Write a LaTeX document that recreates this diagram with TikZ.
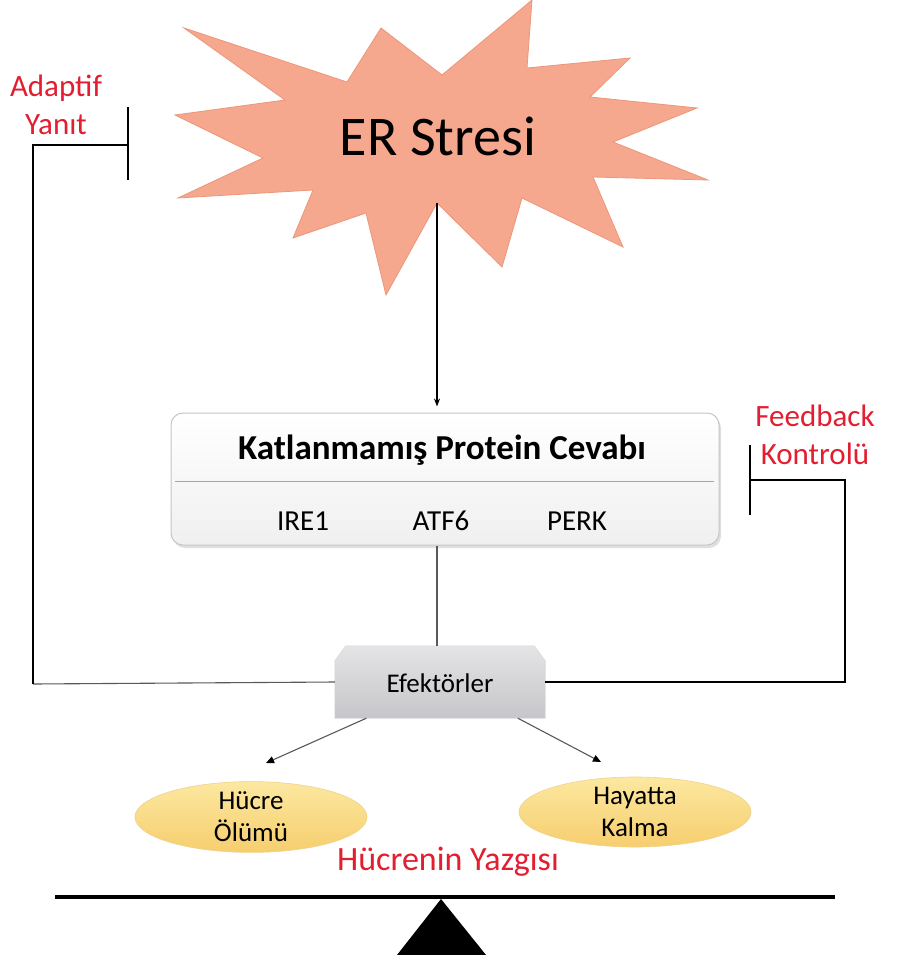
\documentclass[tikz,border=0pt]{standalone}
\usepackage{fontspec}
\setmainfont{Carlito}
\usetikzlibrary{shapes.misc,shapes.geometric,shadows,arrows.meta,calc}
\definecolor{starfill}{RGB}{246,168,142}
\definecolor{stardraw}{RGB}{236,150,122}
\definecolor{redtxt}{RGB}{226,30,48}
\definecolor{ellA}{RGB}{252,232,160}
\definecolor{ellB}{RGB}{246,206,110}
\definecolor{ellD}{RGB}{240,210,140}
\definecolor{effA}{RGB}{228,228,230}
\definecolor{effB}{RGB}{198,198,202}
\tikzset{
  redlabel/.style={text=redtxt, font=\fontsize{31}{38}\selectfont, align=center, inner sep=0pt},
  uprbox/.style={draw=gray!45, rounded corners=12pt, top color=white, bottom color=gray!12,
                 line width=1pt, drop shadow={opacity=0.25, shadow xshift=2pt, shadow yshift=-3pt},
                 minimum width=548pt, minimum height=132pt, inner sep=0pt},
  efbox/.style={rectangle, minimum width=210pt, minimum height=72pt, inner sep=0pt},
  effill/.style={top color=effA, bottom color=effB, draw=gray!30, line width=0.6pt},
  fate/.style={ellipse, top color=ellA, bottom color=ellB, draw=ellD, line width=0.6pt,
               minimum width=232pt, minimum height=68pt, inner sep=0pt,
               align=center, font=\fontsize{27}{32}\selectfont},
  frame/.style={line width=2.2pt, black},
  thinline/.style={line width=1.1pt, gray!70!black},
  smallarrow/.style={thinline, -{Triangle[length=8pt,width=7pt,color=black,fill=black]}},
}
\begin{document}
\begin{tikzpicture}[x=1pt,y=-1pt]
\useasboundingbox (0,0) rectangle (899,955);
\fill[white] (0,0) rectangle (899,955);

% ER stress star
\filldraw[fill=starfill, draw=stardraw, line width=0.8pt, line join=miter]
  (184,28) -- (347,82) -- (381,28) -- (442,75) -- (532,0) -- (527,68) -- (630,58)
  -- (590,97) -- (697,108) -- (613,142) -- (708,180) -- (593,177) -- (623,247)
  -- (522,198) -- (502,267) -- (437,203) -- (386,295) -- (366,213) -- (293,238)
  -- (313,190) -- (178,198) -- (263,158) -- (175,115) -- (285,100) -- cycle;
\node[inner sep=0pt, anchor=base, font=\fontsize{56}{60}\selectfont] (er) at (438,155) {ER Stresi};
\coordinate (starbot) at (437,203);

% UPR box
\node[uprbox] (upr) at (445,479) {};
\draw[gray!70, line width=1pt] ($(upr.west)+(4,2)$) -- ($(upr.east)+(-6,2)$);
\node[anchor=base, inner sep=0pt, font=\bfseries\fontsize{35}{40}\selectfont] (title) at (442,459) {Katlanmamış Protein Cevabı};
\node[anchor=base, inner sep=0pt, font=\fontsize{29}{34}\selectfont] (ire) at (303,530) {IRE1};
\node[anchor=base, inner sep=0pt, font=\fontsize{29}{34}\selectfont] (atf) at (441,530) {ATF6};
\node[anchor=base, inner sep=0pt, font=\fontsize{29}{34}\selectfont] (perk) at (577,530) {PERK};

\draw[line width=1.3pt, -{Stealth[length=8pt,width=6pt]}, shorten >=6pt] (starbot) -- (starbot |- upr.north);

% Effectors
\node[efbox] (eff) at (440,682) {};
\path[effill] (eff.south west) -- ($(eff.north west)+(0,15)$) -- ($(eff.north west)+(11,0)$)
  -- ($(eff.north east)+(-11,0)$) -- ($(eff.north east)+(0,15)$) -- (eff.south east) -- cycle;
\node[anchor=base, inner sep=0pt, font=\fontsize{27}{32}\selectfont] (efftext) at (440,692) {Efektörler};
\draw[thinline] (upr.south -| 437,0) -- (eff.north -| 437,0);

% Adaptive response (left inhibition bracket)
\node[redlabel] (adapt) at (56,105) {Adaptif\\Yanıt};
\coordinate (lbot) at (33,684);
\coordinate (ltop) at (33,145);
\coordinate (lbar) at (128,145);
\draw[thinline] (eff.west) -- (lbot);
\draw[frame] (lbot) -- (ltop) -- (lbar);
\draw[frame] ($(lbar)+(0,-38)$) -- ($(lbar)+(0,35)$);

% Feedback control (right inhibition bracket)
\node[redlabel] (feed) at (815,435) {Feedback\\Kontrolü};
\coordinate (rbot) at (845,682);
\coordinate (rtop) at (845,480);
\coordinate (rbar) at (750,480);
\draw[frame] (eff.east) -- (rbot) -- (rtop) -- (rbar);
\draw[frame] ($(rbar)+(0,-35)$) -- ($(rbar)+(0,35)$);

% Fates
\node[fate] (death) at (251,817) {Hücre\\Ölümü};
\node[fate] (surv) at (635,812) {Hayatta\\Kalma};
\coordinate (deathtip) at (266,763);
\coordinate (survtip) at (601,762);
\draw[smallarrow] ($(eff.south west)!0.15!(eff.south east)$) -- (deathtip);
\draw[smallarrow] ($(eff.south west)!0.87!(eff.south east)$) -- (survtip);

\node[redlabel, font=\fontsize{34}{40}\selectfont] (fatelabel) at (448,862) {Hücrenin Yazgısı};

% Balance
\coordinate (beamL) at (55,897);
\coordinate (beamR) at (835,897);
\draw[line width=4pt] (beamL) -- (beamR);
\coordinate (apex) at (441,899);
\fill[black] (apex) -- (486,955) -- (397,955) -- cycle;
\end{tikzpicture}
\end{document}
